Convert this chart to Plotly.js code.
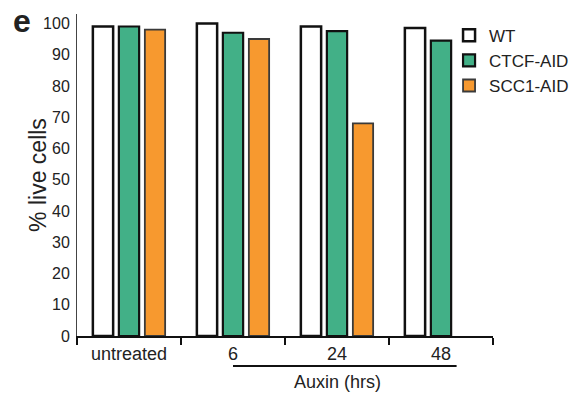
<!DOCTYPE html>
<html>
<head>
<meta charset="utf-8">
<script src="https://cdn.plot.ly/plotly-3.0.1.min.js"></script>
<style>html,body{margin:0;padding:0;background:#fff;}#chart{width:587px;height:394px;}</style>
</head>
<body>
<div id="chart"></div>
<script>
const categories = ['untreated', '6', '24', '48'];
const wtValues = [99, 100, 99, 98.5];
const ctcfValues = [99, 97, 97.5, 94.5];
const scc1Values = [98, 95, 68, null];
const seriesNames = ['WT', 'CTCF-AID', 'SCC1-AID'];
const yTicks = [0, 10, 20, 30, 40, 50, 60, 70, 80, 90, 100];

const FONT = 'Arial, "Liberation Sans", Helvetica, sans-serif';

const traces = [
  {name: seriesNames[0], y: wtValues, fill: '#ffffff', line: '#111111', lw: 2.5},
  {name: seriesNames[1], y: ctcfValues, fill: '#42b087', line: '#111111', lw: 2.2},
  {name: seriesNames[2], y: scc1Values, fill: '#f7992f', line: '#3a3a3a', lw: 1.8}
].map(s => ({
  type: 'bar',
  name: s.name,
  x: categories,
  y: s.y,
  marker: {color: s.fill, line: {color: s.line, width: s.lw}},
  hoverinfo: 'x+y+name'
}));

const layout = {
  width: 587,
  height: 394,
  margin: {l: 77, r: 94, t: 14, b: 58, autoexpand: false},
  paper_bgcolor: '#ffffff',
  plot_bgcolor: '#ffffff',
  font: {family: FONT, color: '#222222', size: 15},
  barmode: 'group',
  bargap: 0.25,
  bargroupgap: 0.22,
  showlegend: true,
  legend: {
    xref: 'container', yref: 'container',
    x: 0.765, xanchor: 'left', y: 0.955, yanchor: 'top',
    font: {family: FONT, size: 17, color: '#222222'},
    itemwidth: 30, tracegroupgap: 0, bgcolor: 'rgba(0,0,0,0)'
  },
  xaxis: {
    type: 'category',
    range: [-0.5, 3.5],
    showline: true, linecolor: '#111111', linewidth: 2,
    ticks: 'outside', tickson: 'boundaries', ticklen: 7, tickwidth: 1.5, tickcolor: '#111111',
    tickfont: {family: FONT, size: 18, color: '#222222'},
    showgrid: false, zeroline: false, fixedrange: true
  },
  yaxis: {
    range: [0, 103],
    tickvals: yTicks,
    ticktext: yTicks.map(String),
    showline: true, linecolor: '#444444', linewidth: 1,
    ticks: '', ticklabelstandoff: 3,
    tickfont: {family: FONT, size: 16, color: '#222222'},
    showgrid: false, zeroline: false, fixedrange: true
  },
  shapes: [
    {type: 'line', xref: 'x', yref: 'paper', x0: 1.0, x1: 3.15, y0: -0.093, y1: -0.093,
     line: {color: '#111111', width: 2}}
  ],
  annotations: [
    {text: 'Auxin (hrs)', xref: 'paper', yref: 'paper', x: 0.627, y: -0.143,
     xanchor: 'center', yanchor: 'middle', showarrow: false,
     font: {family: FONT, size: 18, color: '#222222'}},
    {text: '% live cells', xref: 'paper', yref: 'paper', x: -0.094, y: 0.5,
     xanchor: 'center', yanchor: 'middle', textangle: -90, showarrow: false,
     font: {family: FONT, size: 23, color: '#222222'}},
    {text: '<b>e</b>', xref: 'paper', yref: 'paper', x: -0.132, y: 0.978,
     xanchor: 'center', yanchor: 'middle', showarrow: false,
     font: {family: FONT, size: 32, color: '#222222'}}
  ]
};

Plotly.newPlot('chart', traces, layout, {displayModeBar: false, staticPlot: true});
</script>
</body>
</html>
